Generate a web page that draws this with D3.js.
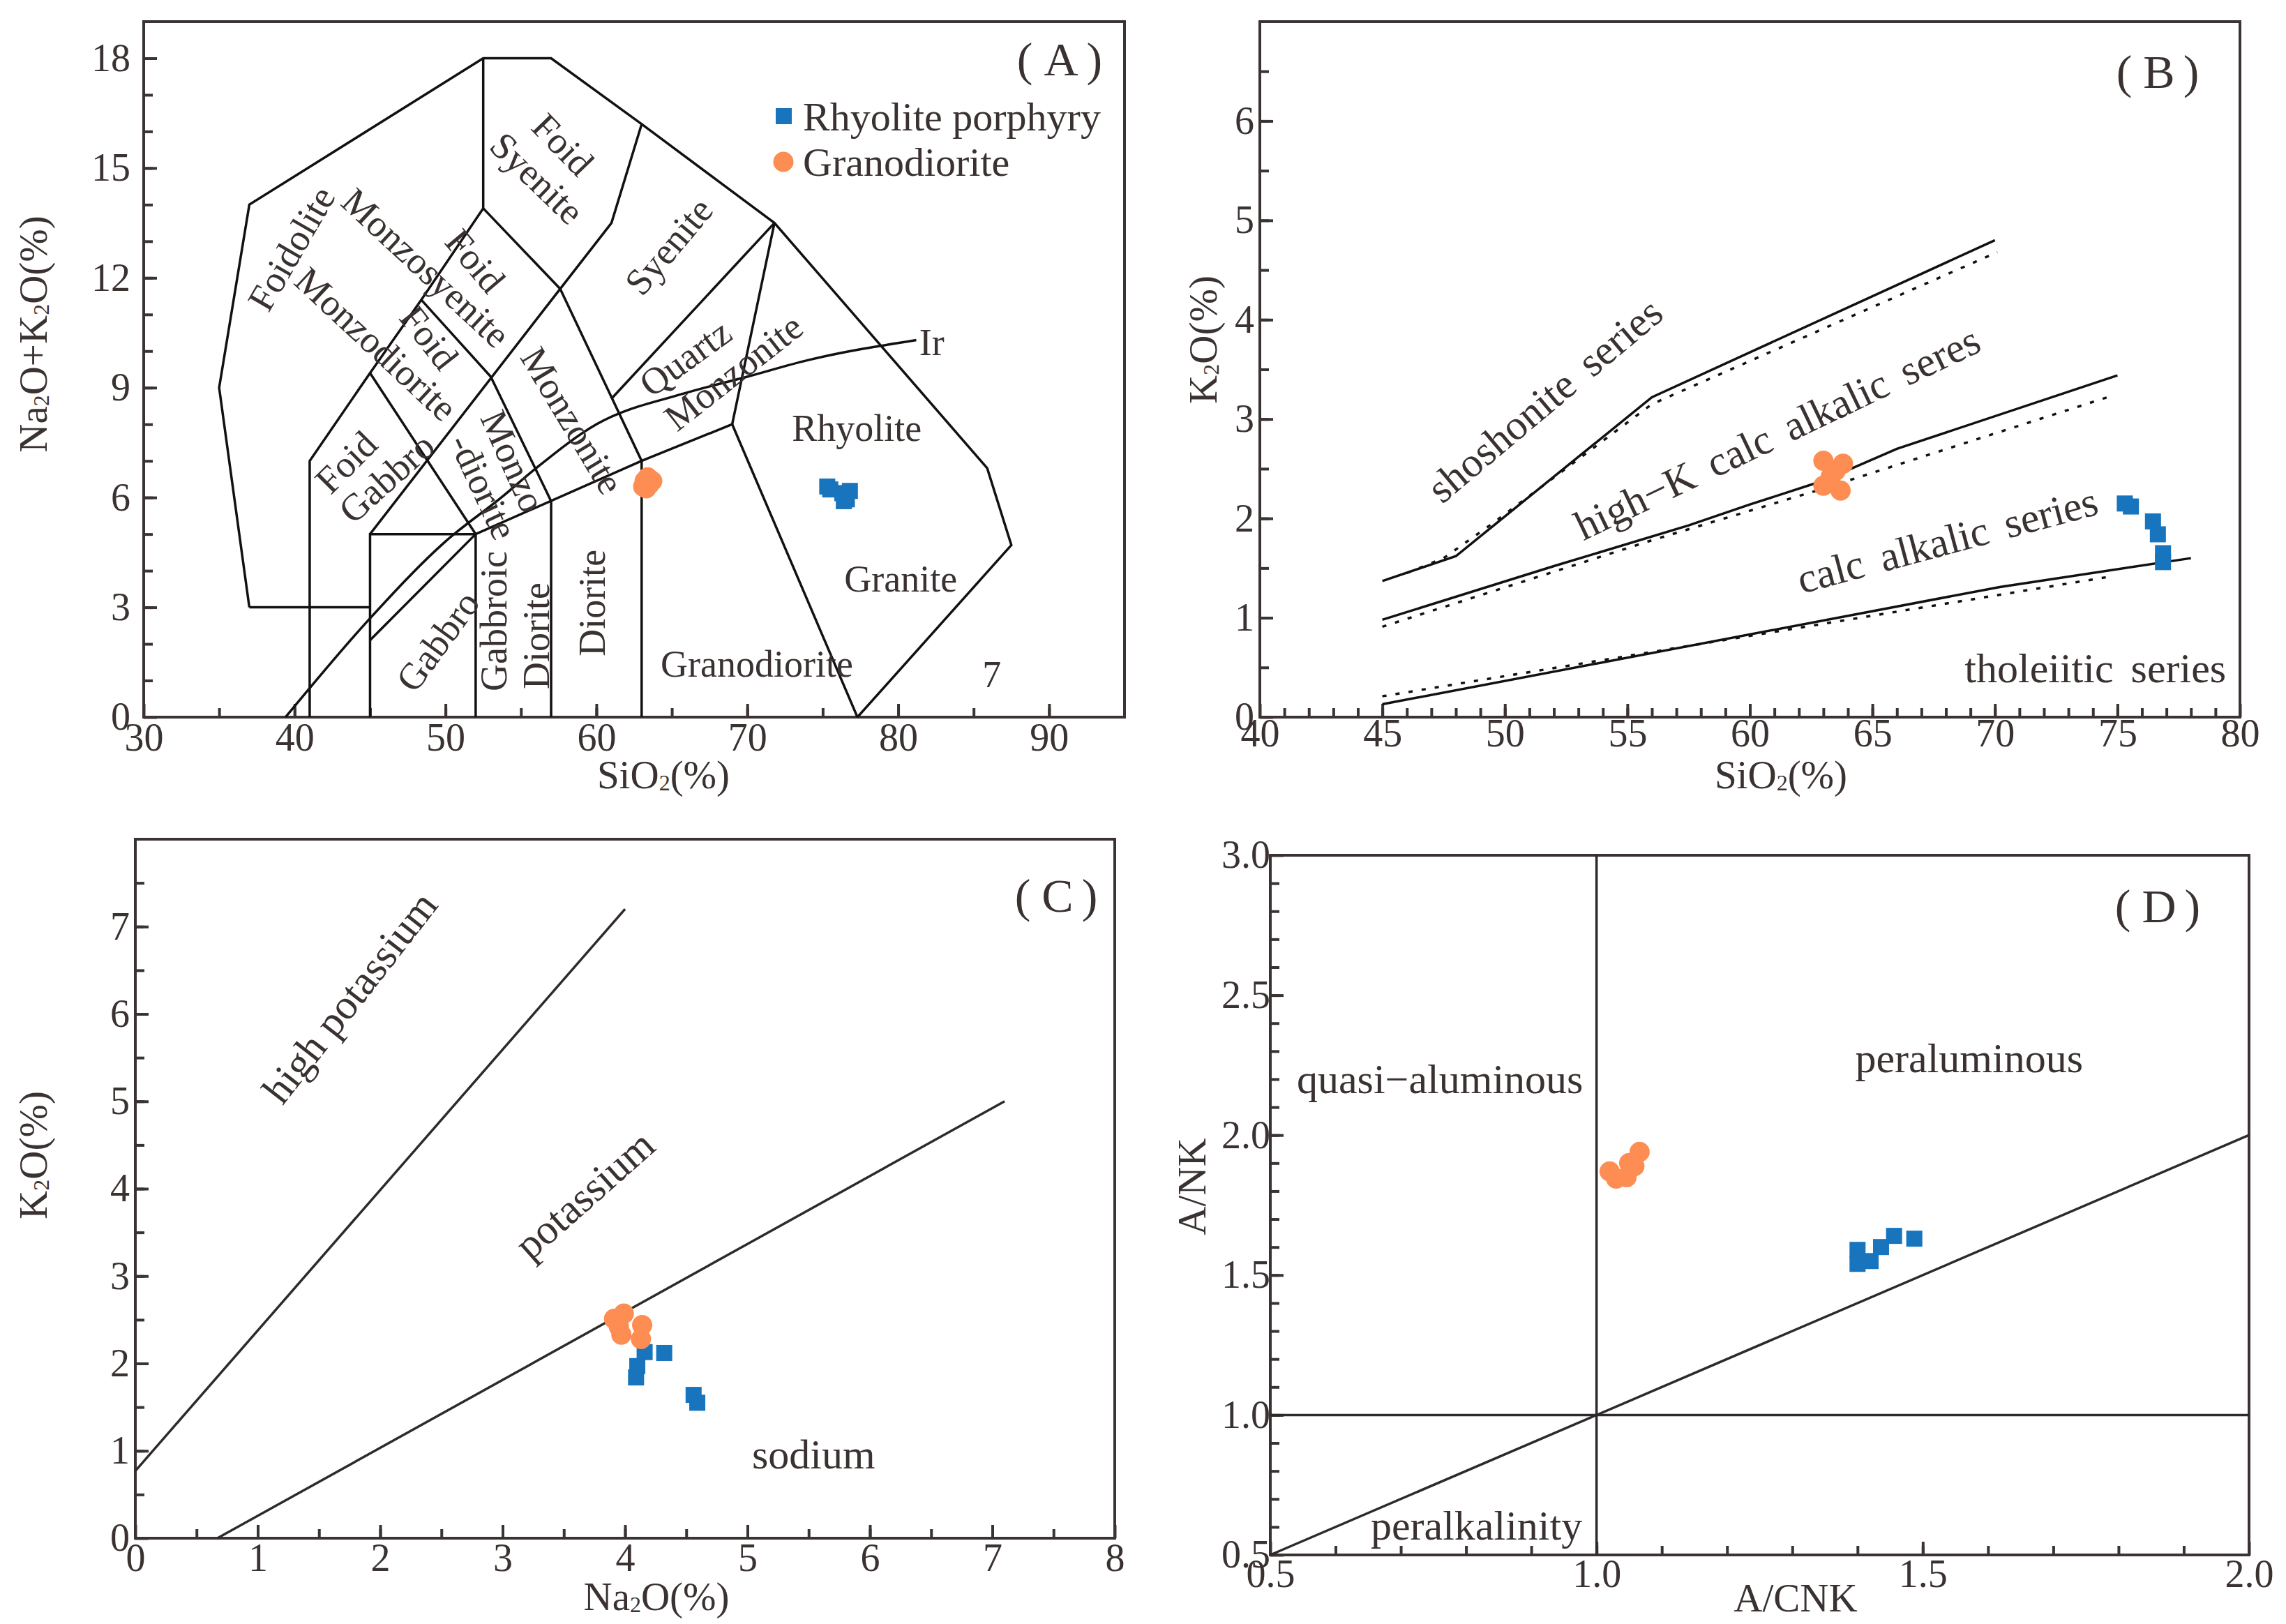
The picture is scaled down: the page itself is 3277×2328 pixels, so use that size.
<!DOCTYPE html>
<html>
<head>
<meta charset="utf-8">
<script src="https://cdn.jsdelivr.net/npm/d3@7"></script>
<style>
  body { margin: 0; background: #fff; }
  svg text { fill: #3a3131; }
</style>
</head>
<body>
<svg id="fig" width="3277" height="2328"></svg>
<script>
// ---------------- data ----------------
// (A) TAS diagram, SiO2 vs Na2O+K2O
var tasOutline = [[37,3],[35,9],[37,14],[52.5,18],[57,18],[63,16.2],[71.8,13.5],[85.9,6.8],[87.5,4.7],[77.3,0]];
var tasLines = [
    [[37,3],[45,3]],
    [[41,0],[41,7],[45,9.4],[48.4,11.4],[52.5,13.9],[52.5,18]],
    [[52.5,13.9],[57.6,11.7],[63,7],[63,0]],
    [[57.6,11.7],[61,13.5],[63,16.2]],
    [[48.4,11.4],[53,9.3],[57,5.9],[57,0]],
    [[45,9.4],[52,5],[52,0]],
    [[45,5],[57.6,11.7]],
    [[45,0],[45,5],[52,5]],
    [[45,2.1],[52,5],[63,7],[69,8],[71.8,13.5]],
    [[69,8],[77.3,0]],
    [[61,8.7],[71.8,13.5]]
];
var irLine = [[39.4,0],[45,2.7],[50,4.8],[53.7,6],[56,6.8],[60,8],[65.7,8.83],[70,9.3],[74,9.75],[81.2,10.3]];
var rhyoA = [[75.3,6.3],[75.5,6.22],[76.3,6.12],[76.8,6.18],[76.6,5.95],[76.4,5.9]];
var granoA = [[63.1,6.3],[63.2,6.45],[63.4,6.55],[63.7,6.45],[63.5,6.35],[63.3,6.25]];

// (B) SiO2 vs K2O
var bSolid = [
    [[45,1.37],[48,1.62],[56,3.22],[70,4.8]],
    [[45,0.98],[52,1.52],[57.5,1.93],[60,2.14],[63,2.38],[66,2.7],[75,3.44]],
    [[45,0.13],[70.2,1.31],[78,1.6]]
];
var bDotted = [
    [[46,1.45],[47.5,1.6],[49.5,1.95],[56,3.15],[70.1,4.68]],
    [[45,0.91],[56,1.78],[63,2.3],[74.6,3.22]],
    [[45,0.21],[74.6,1.41]]
];
var rhyoB = [[75.3,2.15],[75.55,2.12],[76.45,1.97],[76.65,1.84],[76.86,1.65],[76.86,1.56]];
var granoB = [[63.0,2.58],[63.8,2.55],[63.3,2.42],[63.0,2.33],[63.7,2.28],[63.5,2.48]];

// (C) Na2O vs K2O
var cLines = [[[0,0.77],[4,7.2]], [[0.67,0],[7.1,5.0]]];
var rhyoC = [[4.16,2.13],[4.32,2.12],[4.10,1.97],[4.09,1.84],[4.56,1.64],[4.59,1.55]];
var granoC = [[3.91,2.51],[3.99,2.57],[3.97,2.33],[4.14,2.44],[4.13,2.28],[3.95,2.42]];

// (D) A/CNK vs A/NK
var dLines = [[[1,0.5],[1,3]], [[0.5,1],[2,1]], [[0.5,0.5],[2,2]]];
var rhyoD = [[1.40,1.59],[1.40,1.54],[1.42,1.55],[1.436,1.60],[1.456,1.64],[1.487,1.63]];
var granoD = [[1.02,1.87],[1.03,1.845],[1.046,1.85],[1.05,1.90],[1.058,1.889],[1.066,1.94]];

// field names [text, x, y, angle]
var labelsA = [
    ["Foidolite", 39.8, 12.8, -60],
    ["Monzosyenite", 48.7, 12.27, 43],
    ["Foid", 57.77, 15.64, 46], ["Syenite", 56.06, 14.72, 44],
    ["Foid", 51.96, 12.46, 50],
    ["Monzodiorite", 45.4, 10.19, 43], ["Foid", 48.9, 10.37, 52],
    ["Syenite", 64.8, 12.86, -50],
    ["Quartz", 65.9, 9.81, -36], ["Monzonite", 69.09, 9.42, -38],
    ["Monzonite", 58.39, 8.1, 59],
    ["Foid", 43.42, 6.96, -45], ["Gabbro", 46.1, 6.53, -42],
    ["Monzo", 54.47, 6.99, 66], ["-diorite", 52.5, 6.29, 65],
    ["Gabbro", 49.5, 2.07, -54],
    ["Gabbroic", 53.23, 2.62, -90], ["Diorite", 56.03, 2.22, -90],
    ["Diorite", 59.72, 3.12, -90],
    ["Granodiorite", 70.64, 1.45, 0],
    ["Rhyolite", 77.26, 7.89, 0],
    ["Granite", 80.17, 3.77, 0],
    ["7", 86.2, 1.17, 0]
];
var labelsB = [
    ["shoshonite series", 51.63, 3.19, -40],
    ["high\u2212K calc alkalic seres", 61.12, 2.86, -25.5],
    ["calc alkalic series", 68.06, 1.78, -15],
    ["tholeiitic series", 74.1, 0.49, 0]
];
var labelsC = [
    ["high potassium", 1.753, 6.19, -52],
    ["potassium", 3.67, 3.93, -41.5],
    ["sodium", 5.54, 0.96, 0]
];
var labelsD = [
    ["quasi\u2212aluminous", 0.76, 2.2, 0],
    ["peraluminous", 1.571, 2.275, 0],
    ["peralkalinity", 0.816, 0.605, 0]
];

// ---------------- drawing ----------------
var SERIF = '"Liberation Serif", "Times New Roman", serif';
var svg = d3.select("#fig").style("font-family", SERIF);
var INK = "#3b3333";
var BLUE = "#1874bc", ORANGE = "#fd8d52";

function panel(cfg) {
    var g = svg.append("g").attr("transform", "translate(" + cfg.x0 + "," + cfg.y0 + ")");
    var x = d3.scaleLinear().domain(cfg.xd).range([0, cfg.w]);
    var y = d3.scaleLinear().domain(cfg.yd).range([cfg.h, 0]);

    // minor ticks
    g.append("g").attr("class", "ax").attr("transform", "translate(0," + cfg.h + ")")
        .call(d3.axisBottom(x).tickValues(cfg.xMinor).tickSizeInner(-13).tickSizeOuter(0).tickFormat(""));
    g.append("g").attr("class", "ax")
        .call(d3.axisLeft(y).tickValues(cfg.yMinor).tickSizeInner(-13).tickSizeOuter(0).tickFormat(""));
    // major ticks + labels
    g.append("g").attr("class", "ax").attr("transform", "translate(0," + cfg.h + ")")
        .call(d3.axisBottom(x).tickValues(cfg.xMajor).tickSizeInner(-19).tickSizeOuter(0)
            .tickPadding(cfg.xPad).tickFormat(cfg.xFmt));
    g.append("g").attr("class", "ax")
        .call(d3.axisLeft(y).tickValues(cfg.yMajor).tickSizeInner(-19).tickSizeOuter(0)
            .tickPadding(cfg.yPad).tickFormat(cfg.yFmt));
    g.selectAll(".ax").attr("font-family", null).attr("font-size", null);
    g.selectAll(".ax .domain").remove();
    g.selectAll(".ax line").attr("stroke", INK).attr("stroke-width", 4);
    g.selectAll(".ax text").style("font-size", "56px").style("font-family", SERIF).attr("fill", "#3a3131");

    g.append("rect").attr("width", cfg.w).attr("height", cfg.h)
        .attr("fill", "none").attr("stroke", INK).attr("stroke-width", 4);

    return { g: g, x: x, y: y };
}

function lines(p, data, opt) {
    var line = d3.line().x(function(d) { return p.x(d[0]) }).y(function(d) { return p.y(d[1]) });
    if (opt.curve) line.curve(opt.curve);
    p.g.append("g").selectAll("path").data(data).enter().append("path")
        .attr("d", line)
        .attr("fill", "none")
        .attr("stroke", opt.color || "#111")
        .attr("stroke-width", opt.width || 3.5)
        .attr("stroke-dasharray", opt.dash || null);
}

function points(p, rhyo, grano) {
    var s = 23;
    p.g.append("g").selectAll("rect").data(rhyo).enter().append("rect")
        .attr("x", function(d) { return p.x(d[0]) - s / 2 })
        .attr("y", function(d) { return p.y(d[1]) - s / 2 })
        .attr("width", s).attr("height", s)
        .attr("fill", BLUE);
    p.g.append("g").selectAll("circle").data(grano).enter().append("circle")
        .attr("cx", function(d) { return p.x(d[0]) })
        .attr("cy", function(d) { return p.y(d[1]) })
        .attr("r", 14.5)
        .attr("fill", ORANGE);
}

function labels(p, data, fs, extra) {
    p.g.append("g").selectAll("text").data(data).enter().append("text")
        .attr("transform", function(d) {
            return "translate(" + p.x(d[1]) + "," + p.y(d[2]) + ") rotate(" + d[3] + ")";
        })
        .attr("text-anchor", "middle")
        .attr("dominant-baseline", "central")
        .attr("font-size", fs)
        .attr("word-spacing", extra || 0)
        .text(function(d) { return d[0] });
}

// panel letter in full-width brackets
function tag(p, letter, px, py) {
    var t = p.g.append("text").attr("x", px).attr("y", py)
        .attr("text-anchor", "middle").attr("dominant-baseline", "central")
        .attr("font-size", 68);
    t.append("tspan").attr("font-weight", 300).text("(");
    t.append("tspan").attr("dx", 16).text(letter);
    t.append("tspan").attr("dx", 12).attr("font-weight", 300).text(")");
}

// axis title with subscript pieces: parts = [[text, isSub], ...]
function title(px, py, rot, parts) {
    var t = svg.append("text")
        .attr("transform", "translate(" + px + "," + py + ") rotate(" + rot + ")")
        .attr("text-anchor", "middle").attr("dominant-baseline", "central")
        .attr("font-size", 57);
    var sub = false;
    parts.forEach(function(pt) {
        var s = t.append("tspan").text(pt[0]);
        if (pt[1]) { s.attr("font-size", 32).attr("dy", 12); sub = true }
        else if (sub) { s.attr("dy", -12); sub = false }
    });
}

// ---- panel A ----
var pA = panel({
    x0: 206, y0: 31, w: 1406, h: 997, xd: [30, 95], yd: [0, 19],
    xMajor: d3.range(30, 91, 10), xMinor: d3.range(35, 95, 5),
    yMajor: d3.range(0, 19, 3), yMinor: d3.range(1, 19, 1),
    xPad: 8, yPad: 19, xFmt: d3.format("d"), yFmt: d3.format("d")
});
lines(pA, [tasOutline], { width: 3.5 });
lines(pA, tasLines, { width: 3.5 });
lines(pA, [irLine], { width: 3.5, curve: d3.curveMonotoneX });
labels(pA, labelsA, 54);
pA.g.append("text").attr("x", pA.x(81.4)).attr("y", pA.y(10.23))
    .attr("dominant-baseline", "central").attr("font-size", 54).text("Ir");
points(pA, rhyoA, granoA);
tag(pA, "A", 1313, 54);
// legend
pA.g.append("rect").attr("x", 906).attr("y", 124).attr("width", 23).attr("height", 23).attr("fill", BLUE);
pA.g.append("text").attr("x", 945).attr("y", 136).attr("dominant-baseline", "central")
    .attr("font-size", 58).text("Rhyolite porphyry");
pA.g.append("circle").attr("cx", 917).attr("cy", 201).attr("r", 14.5).attr("fill", ORANGE);
pA.g.append("text").attr("x", 945).attr("y", 201).attr("dominant-baseline", "central")
    .attr("font-size", 58).text("Granodiorite");

// ---- panel B ----
var pB = panel({
    x0: 1806, y0: 31, w: 1405, h: 997, xd: [40, 80], yd: [0, 7],
    xMajor: d3.range(40, 81, 5), xMinor: d3.range(41, 80, 1),
    yMajor: d3.range(0, 7, 1), yMinor: d3.range(0.5, 7, 0.5),
    xPad: 2, yPad: 8, xFmt: d3.format("d"), yFmt: d3.format("d")
});
lines(pB, bSolid, { width: 3.5 });
lines(pB, bDotted, { width: 3.5, dash: "6,13" });
labels(pB, labelsB, 60, 10);
points(pB, rhyoB, granoB);
tag(pB, "B", 1287, 72);

// ---- panel C ----
var pC = panel({
    x0: 194, y0: 1203, w: 1404, h: 1002, xd: [0, 8], yd: [0, 8],
    xMajor: d3.range(0, 9, 1), xMinor: d3.range(0.5, 8, 0.5),
    yMajor: d3.range(0, 8, 1), yMinor: d3.range(0.5, 8, 0.5),
    xPad: 7, yPad: 8, xFmt: d3.format("d"), yFmt: d3.format("d")
});
lines(pC, cLines, { width: 3.5, color: "#2f2a2a" });
labels(pC, labelsC, 60);
points(pC, rhyoC, granoC);
tag(pC, "C", 1320, 81);

// ---- panel D ----
var pD = panel({
    x0: 1821, y0: 1226, w: 1403, h: 1003, xd: [0.5, 2], yd: [0.5, 3],
    xMajor: [0.5, 1, 1.5, 2], xMinor: d3.range(0.6, 2, 0.1),
    yMajor: [0.5, 1, 1.5, 2, 2.5, 3], yMinor: d3.range(0.6, 3, 0.1),
    xPad: 6, yPad: 0, xFmt: d3.format(".1f"), yFmt: d3.format(".1f")
});
lines(pD, dLines, { width: 3.5, color: "#2f2a2a" });
labels(pD, labelsD, 60);
points(pD, rhyoD, granoD);
tag(pD, "D", 1272, 73);

// ---- axis titles ----
title(951, 1110, 0, [["SiO", 0], ["2", 1], ["(%)", 0]]);
title(47, 479, -90, [["Na", 0], ["2", 1], ["O+K", 0], ["2", 1], ["O(%)", 0]]);
title(2553, 1110, 0, [["SiO", 0], ["2", 1], ["(%)", 0]]);
title(1724, 487, -90, [["K", 0], ["2", 1], ["O(%)", 0]]);
title(941, 2288, 0, [["Na", 0], ["2", 1], ["O(%)", 0]]);
title(47, 1656, -90, [["K", 0], ["2", 1], ["O(%)", 0]]);
title(2574, 2290, 0, [["A/CNK", 0]]);
title(1708, 1701, -90, [["A/NK", 0]]);
</script>
</body>
</html>
